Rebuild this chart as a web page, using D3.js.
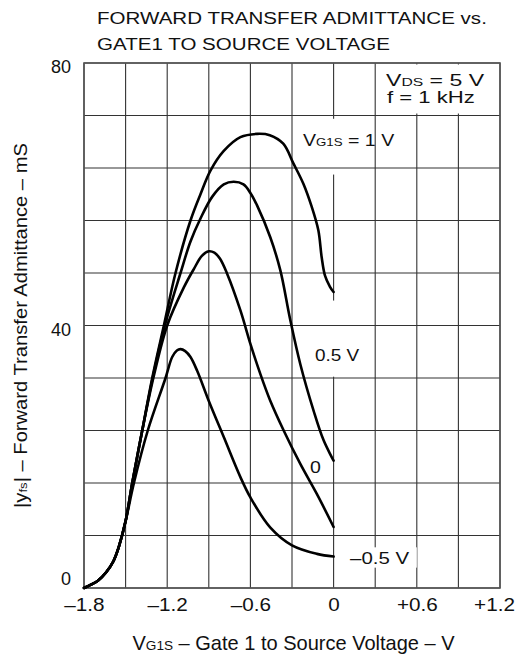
<!DOCTYPE html>
<html>
<head>
<meta charset="utf-8">
<script src="https://cdn.jsdelivr.net/npm/d3@7"></script>
<style>
  body { margin: 0; background: #fff; }
  text { font-family: "Liberation Sans", Arial, sans-serif; fill: #111; }
</style>
</head>
<body>
<div id="chart"></div>
<script>
// Chart data: |yfs| (mS) vs VG1S (V) for each VG2S level
var xTicks = [-1.8, -1.2, -0.6, 0, 0.6, 1.2];
var yTicks = [0, 40, 80];

var curve1V = [[-1.8,0],[-1.75,0.5],[-1.7,1.1],[-1.64,2.4],[-1.59,4.0],[-1.55,6.2],[-1.5,10.2],[-1.452,16],[-1.38,24],[-1.308,32],[-1.224,40],[-1.14,48],[-1.032,56],[-0.96,60],[-0.888,63.6],[-0.792,66.6],[-0.672,68.7],[-0.552,69.2],[-0.46,69],[-0.363,67.7],[-0.29,64.7],[-0.218,61.6],[-0.158,58.1],[-0.11,54.5],[-0.086,50.4],[-0.062,47.6],[-0.026,45.9],[0,45.1]];
var curve05V = [[-1.8,0],[-1.75,0.5],[-1.7,1.1],[-1.64,2.4],[-1.59,4.0],[-1.55,6.2],[-1.5,10.2],[-1.452,16],[-1.38,24],[-1.305,32],[-1.217,40],[-1.104,48],[-1.032,52.8],[-0.96,56.3],[-0.876,59.6],[-0.792,61.5],[-0.72,61.9],[-0.65,61.5],[-0.6,60.2],[-0.552,58.3],[-0.456,53.4],[-0.384,48.4],[-0.314,41],[-0.24,34.1],[-0.144,27.0],[-0.072,22.5],[0,19.4]];
var curve0V = [[-1.8,0],[-1.75,0.5],[-1.7,1.1],[-1.64,2.4],[-1.59,4.0],[-1.55,6.2],[-1.5,10.2],[-1.452,16],[-1.38,24],[-1.3,32],[-1.2,40],[-1.08,45.8],[-1.008,48.6],[-0.95,50.6],[-0.9,51.3],[-0.86,51.1],[-0.82,50.2],[-0.768,47.9],[-0.672,42.3],[-0.6,37.2],[-0.528,32.6],[-0.456,28.5],[-0.36,24.0],[-0.24,18.9],[-0.12,14.3],[0,9.3]];
var curveM05V = [[-1.8,0],[-1.75,0.5],[-1.7,1.1],[-1.64,2.4],[-1.59,4.0],[-1.55,6.2],[-1.5,10.2],[-1.44,16],[-1.34,24],[-1.212,32],[-1.164,35.2],[-1.13,36.2],[-1.104,36.4],[-1.07,36.1],[-1.032,35.2],[-0.984,33.1],[-0.9,28.5],[-0.792,23.0],[-0.672,16.9],[-0.6,13.8],[-0.456,9.2],[-0.3,6.5],[-0.12,5.2],[0,4.8]];

// Chart params
var svgWidth = 515;
var svgHeight = 656;
var margin = { top: 63, right: 15, bottom: 68, left: 84 };
var width = 500 - margin.left;
var height = 588 - margin.top;

var svg = d3.select("#chart")
  .append("svg")
  .attr("width", svgWidth)
  .attr("height", svgHeight);

var chartGroup = svg.append("g")
  .attr("transform", `translate(${margin.left}, ${margin.top})`);

var xScale = d3.scaleLinear().domain([-1.8, 1.2]).range([0, width]);
var yScale = d3.scaleLinear().domain([0, 80]).range([height, 0]);

// helper: text made of parts [string, relative size], stretched to a given width
function label(parent, x, y, parts, size, anchor, w, sx) {
  var g = parent.append("g").attr("transform", `translate(${x},${y})`);
  var t = g.append("text").attr("text-anchor", anchor).attr("font-size", size);
  parts.forEach(function(p) {
    t.append("tspan").attr("font-size", p[1] ? size * p[1] : null).text(p[0]);
  });
  if (w) {
    var bw = t.node().getBBox().width;
    t.attr("transform", `scale(${w / bw},1)`);
  } else if (sx) {
    t.attr("transform", `scale(${sx},1)`);
  }
  return g;
}

// grid lines
var xGrid = d3.range(11).map(function(i) { return -1.8 + i * 0.3; });
var yGrid = d3.range(0, 81, 8);

chartGroup.append("g").selectAll("line")
  .data(xGrid)
  .enter()
  .append("line")
  .attr("x1", d => xScale(d)).attr("x2", d => xScale(d))
  .attr("y1", 0).attr("y2", height)
  .attr("stroke", "#333").attr("stroke-width", 1.1);

// white boxes behind the notes (they break the vertical grid)
var masks = chartGroup.append("g").attr("fill", "#fff");
masks.append("rect").attr("x", xScale(0.31)).attr("y", 1.5).attr("width", xScale(1.19) - xScale(0.31)).attr("height", yScale(72.3) - 1.5);
masks.append("rect").attr("x", xScale(-0.24)).attr("y", yScale(65.8)).attr("width", xScale(0.17) - xScale(-0.24)).attr("height", yScale(63) - yScale(65.8));
masks.append("rect").attr("x", xScale(-0.02)).attr("y", yScale(71.5)).attr("width", xScale(0.02) - xScale(-0.02)).attr("height", yScale(64.2) - yScale(71.5));
masks.append("rect").attr("x", xScale(-0.02)).attr("y", yScale(43.8)).attr("width", xScale(0.02) - xScale(-0.02)).attr("height", yScale(32.2) - yScale(43.8));
masks.append("rect").attr("x", xScale(0.08)).attr("y", yScale(6.2)).attr("width", xScale(0.6) - xScale(0.08)).attr("height", yScale(3.1) - yScale(6.2));

chartGroup.append("g").selectAll("line")
  .data(yGrid)
  .enter()
  .append("line")
  .attr("x1", 0).attr("x2", width)
  .attr("y1", d => yScale(d)).attr("y2", d => yScale(d))
  .attr("stroke", "#333").attr("stroke-width", 1.1);

// plot border
chartGroup.append("rect")
  .attr("x", 0).attr("y", 0)
  .attr("width", width).attr("height", height)
  .attr("fill", "none").attr("stroke", "#555").attr("stroke-width", 1.6);

// curves
var line = d3.line()
  .x(d => xScale(d[0]))
  .y(d => yScale(d[1]))
  .curve(d3.curveCatmullRom.alpha(0.5));

chartGroup.append("g").selectAll("path")
  .data([curve1V, curve05V, curve0V, curveM05V])
  .enter()
  .append("path")
  .attr("d", line)
  .attr("fill", "none")
  .attr("stroke", "#000")
  .attr("stroke-width", 2.6)
  .attr("stroke-linejoin", "round")
  .attr("stroke-linecap", "round");

// x axis tick labels
var bottomAxis = d3.axisBottom(xScale)
  .tickValues(xTicks)
  .tickSize(0)
  .tickFormat(d => d < 0 ? "\u2013" + Math.abs(d).toFixed(1) : d > 0 ? "+" + d.toFixed(1) : "0");

var xAxis = chartGroup.append("g")
  .attr("transform", `translate(0, ${height})`)
  .call(bottomAxis);
xAxis.select(".domain").remove();
xAxis.selectAll("text")
  .attr("x", d => d === 1.2 ? -6 / 1.15 : 0)
  .attr("y", 23).attr("dy", null)
  .attr("font-size", 18)
  .attr("font-family", null)
  .attr("fill", "#111")
  .attr("transform", "scale(1.15,1)");

// y axis tick labels
var leftAxis = d3.axisLeft(yScale).tickValues(yTicks).tickSize(0);
var yAxis = chartGroup.append("g").call(leftAxis);
yAxis.select(".domain").remove();
yAxis.selectAll("text")
  .attr("x", -13).attr("dy", d => d === 0 ? "-0.18em" : "0.55em")
  .attr("font-size", 18)
  .attr("font-family", null)
  .attr("fill", "#111");

// title
label(svg, 97, 24, [["FORWARD TRANSFER ADMITTANCE vs."]], 17, "start", 390);
label(svg, 97, 49.5, [["GATE1 TO SOURCE VOLTAGE"]], 17, "start", 293);

// conditions
label(svg, 386, 86, [["V"], ["DS", 0.68], [" = 5 V"]], 17, "start", 99);
label(svg, 387, 103, [["f = 1 kHz"]], 17, "start", 88);

// curve labels
label(svg, 303, 146, [["V"], ["G1S", 0.68], [" = 1 V"]], 17, "start", 92);
label(svg, 315, 361, [["0.5 V"]], 17, "start", 45);
label(svg, 310, 473, [["0"]], 17, "start", null, 1.15);
label(svg, 350, 564, [["\u20130.5 V"]], 17, "start", 60);

// axis titles
label(svg, 293.5, 650, [["V"], ["G1S", 0.68], [" \u2013 Gate 1 to Source Voltage \u2013 V"]], 20, "middle", 323);
var yl = label(svg, 0, 0, [["|y"], ["fs", 0.65], ["| \u2013 Forward Transfer Admittance \u2013 mS"]], 18, "middle", 365);
yl.attr("transform", "translate(27,325.5) rotate(-90)");
</script>
</body>
</html>
